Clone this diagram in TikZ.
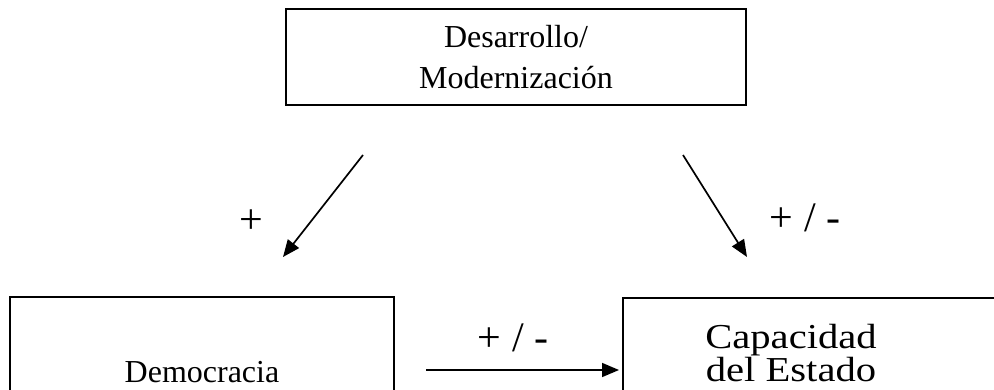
\documentclass[tikz,border=0pt]{standalone}
\usepackage{fontspec}
\setmainfont{Liberation Serif}
\usepackage{graphicx}
\usepackage{tikz}
\usetikzlibrary{arrows.meta,positioning}
\newcommand{\wide}[2][1.16]{\scalebox{#1}[1]{#2}}

\begin{document}
\begin{tikzpicture}[
  x=1pt, y=-1pt,
  box/.style={draw, line width=1.8pt, rectangle, inner sep=0pt},
  sign/.style={font=\fontsize{42}{42}\selectfont, inner sep=0pt},
  arr/.style={-{Triangle[length=17pt,width=14pt]}, line width=1.7pt},
]
\useasboundingbox (0,0) rectangle (994,390);
\clip (0,0) rectangle (994,390);

% Desarrollo box
\node[box, minimum width=460, minimum height=96, align=center,
      font=\fontsize{32}{41}\selectfont] (des) at (516,57)
  {Desarrollo/\\Modernización};

% Democracia box (runs past the bottom)
\node[box, minimum width=384, minimum height=150,
      font=\fontsize{32}{32}\selectfont] (dem) at (202,372)
  {Democracia};

% Capacidad box (runs past the bottom and right)
\node[box, anchor=north west, minimum width=420, minimum height=140]
  (capbox) at (622,297) {};
\node[align=center, font=\fontsize{35}{31}\selectfont] (cap) at (791,353)
  {\wide{Capacidad}\\\wide{del Estado}};

% Arrow ends
\coordinate (l1) at (363,155);
\coordinate (l2) at (283,257);
\coordinate (r1) at (683,155);
\coordinate (r2) at (747,257);
\coordinate (h1) at (426,370);
\coordinate (h2) at (619,370);

% Arrows
\draw[arr] (l1) -- (l2);
\draw[arr] (r1) -- (r2);
\draw[arr] (h1) -- (h2);

% Signs
\node[sign] (pl) at (251,222) {+};
\node[sign] (pr) at (805,218) {+ / -};
\node[sign] (ph) at (513,338) {+ / -};
\end{tikzpicture}
\end{document}
